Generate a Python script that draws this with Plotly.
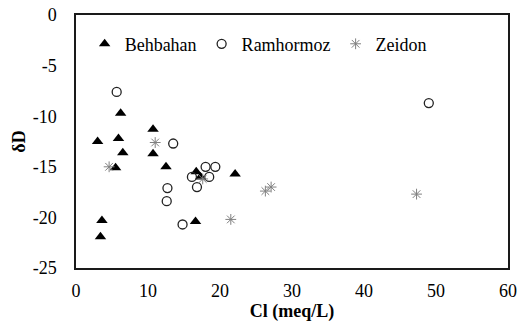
import plotly.graph_objects as go

# Cl (meq/L) and deltaD values per sampling area
behbahan_cl = [3.0, 6.2, 5.9, 6.5, 10.7, 10.7, 5.5, 12.5, 16.7, 17.3, 22.1, 3.6, 3.4, 16.6]
behbahan_dd = [-12.5, -9.7, -12.2, -13.6, -11.3, -13.7, -15.1, -15.0, -15.5, -16.0, -15.7, -20.3, -21.9, -20.4]

ramhormoz_cl = [5.65, 13.5, 16.1, 18.0, 19.35, 18.5, 16.8, 12.7, 12.6, 14.8, 49.0]
ramhormoz_dd = [-7.6, -12.7, -16.0, -15.0, -15.0, -16.0, -17.0, -17.1, -18.4, -20.7, -8.7]

zeidon_cl = [11.0, 4.6, 21.5, 17.6, 26.3, 27.1, 47.3]
zeidon_dd = [-12.6, -15.0, -20.2, -16.2, -17.4, -17.0, -17.7]

x_ticks = [0, 10, 20, 30, 40, 50, 60]
y_ticks = [0, -5, -10, -15, -20, -25]

FONT = "Liberation Serif"
FS = 18

fig = go.Figure()
fig.add_trace(go.Scatter(
    x=behbahan_cl, y=behbahan_dd, mode="markers", name="Behbahan",
    marker=dict(symbol="triangle-up", size=10, color="black",
                line=dict(width=0))))
fig.add_trace(go.Scatter(
    x=ramhormoz_cl, y=ramhormoz_dd, mode="markers", name="Ramhormoz",
    marker=dict(symbol="circle-open", size=9, color="#222222",
                line=dict(width=1.3, color="#222222"))))
fig.add_trace(go.Scatter(
    x=zeidon_cl, y=zeidon_dd, mode="markers", name="Zeidon",
    marker=dict(symbol="asterisk-open", size=9, color="#808080",
                line=dict(width=1, color="#808080"))))

axis_common = dict(
    showgrid=False, zeroline=False, showline=True, mirror=True,
    linecolor="#1a1a1a", linewidth=1.5, ticks="", automargin=False,
    tickfont=dict(family=FONT, size=FS, color="black"),
)

fig.update_layout(
    width=522, height=324,
    margin=dict(l=76, r=14, t=15, b=56),
    paper_bgcolor="white", plot_bgcolor="white",
    font=dict(family=FONT, color="black"),
    showlegend=True,
    legend=dict(
        orientation="h", x=0.02, y=0.885, xanchor="left", yanchor="middle",
        font=dict(family=FONT, size=FS, color="black"),
        itemwidth=30, bgcolor="rgba(0,0,0,0)", tracegroupgap=0,
    ),
    xaxis=dict(
        range=[0, 60], tickvals=x_ticks, ticktext=[str(v) for v in x_ticks],
        ticklabelstandoff=6,
        title=dict(text="<b>Cl (meq/L)</b>", standoff=2,
                   font=dict(family=FONT, size=FS, color="black")),
        **axis_common),
    yaxis=dict(
        range=[-25, 0], tickvals=y_ticks, ticktext=[str(v) for v in y_ticks],
        ticklabelstandoff=14,
        title=dict(text="<b>δD</b>", standoff=2,
                   font=dict(family=FONT, size=FS, color="black")),
        **axis_common),
)

fig.write_html("out.html")
